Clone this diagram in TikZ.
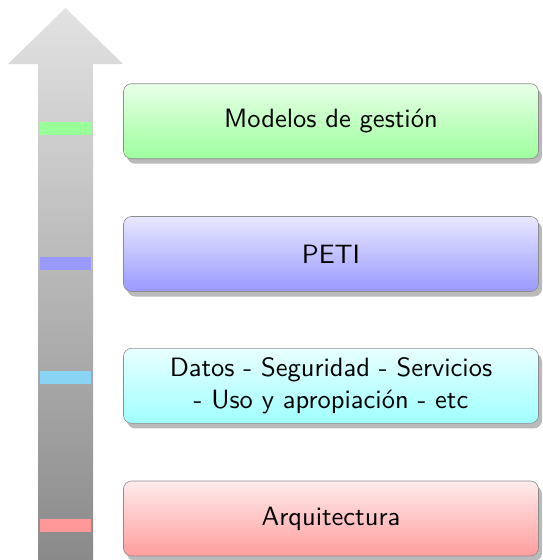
\documentclass[tikz,border=0pt]{standalone}
\usepackage{fontspec}
\newfontfamily\boxfont{lmsans10-regular}[Extension=.otf]
\usetikzlibrary{shadows}
\definecolor{arrtop}{RGB}{226,226,226}
\definecolor{arrbot}{RGB}{138,138,138}
\definecolor{gbar}{RGB}{153,255,153}
\definecolor{bbar}{RGB}{153,153,255}
\definecolor{cbar}{RGB}{137,212,245}
\definecolor{rbar}{RGB}{255,153,153}
\definecolor{gtop}{RGB}{232,255,232}
\definecolor{gbot}{RGB}{158,255,158}
\definecolor{btop}{RGB}{232,232,255}
\definecolor{bbot}{RGB}{153,153,255}
\definecolor{ctop}{RGB}{232,255,255}
\definecolor{cbot}{RGB}{160,255,255}
\definecolor{rtop}{RGB}{255,235,235}
\definecolor{rbot}{RGB}{255,158,158}
\begin{document}
\begin{tikzpicture}[x=1pt,y=-1pt,
  layerbox/.style={draw=black!45, line width=0.6pt, rounded corners=8pt,
    minimum width=415pt, minimum height=75pt, align=center,
    font=\boxfont\fontsize{26.5}{32.5}\selectfont, text=black,
    drop shadow={shadow xshift=3.5pt, shadow yshift=-5pt, fill=black!27, opacity=1}},
  levelbar/.style={draw=none, minimum width=51pt, minimum height=12.5pt, inner sep=0pt}]
\useasboundingbox (0,0) rectangle (543,560);
% arrow
\shade[top color=arrtop, bottom color=arrbot]
  (38,560) -- (38,64) -- (8,64) -- (65.5,8) -- (123,64) -- (93,64) -- (93,560) -- cycle;
% level bars
\node[levelbar, fill=gbar] (bg) at (65.5,128.5) {};
\node[levelbar, fill=bbar] (bb) at (65.5,263.5) {};
\node[levelbar, fill=cbar] (bc) at (65.5,377.5) {};
\node[levelbar, fill=rbar] (br) at (65.5,525.5) {};
% boxes
\node[layerbox, top color=gtop, bottom color=gbot] (mg) at (331,121.2) {Modelos de gestión};
\node[layerbox, top color=btop, bottom color=bbot] (peti) at (331,254) {PETI};
\node[layerbox, top color=ctop, bottom color=cbot] (dat) at (331,385.8) {Datos - Seguridad - Servicios\\- Uso y apropiación - etc};
\node[layerbox, top color=rtop, bottom color=rbot] (arq) at (331,518.5) {Arquitectura};
\end{tikzpicture}
\end{document}
